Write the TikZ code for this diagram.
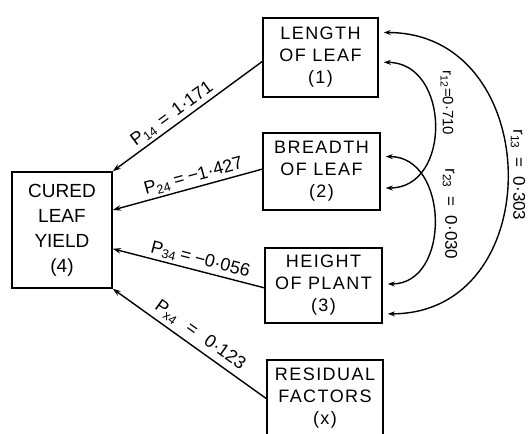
\documentclass[tikz,border=0pt]{standalone}
\usepackage{fontspec}
\setmainfont{Liberation Sans}
\newfontfamily\boxf[LetterSpace=8]{Liberation Sans}
\newfontfamily\labf{Liberation Sans}
\usetikzlibrary{arrows.meta,calc}
\begin{document}
\begin{tikzpicture}[x=1pt,y=-1pt,
  box/.style={draw,line width=1.6pt,align=center,inner sep=0pt,font=\boxf\fontsize{18}{22}\selectfont},
  conn/.style={line width=1.4pt,{Stealth[length=8pt,width=5.5pt]}-},
  corr/.style={line width=1.4pt,{Stealth[length=7pt,width=5pt]}-{Stealth[length=7pt,width=5pt]}},
  lab/.style={font=\labf\fontsize{18}{21}\selectfont,inner sep=2.5pt},
  rlab/.style={font=\labf\fontsize{17}{20}\selectfont,rotate=-90,inner sep=0pt}]
\useasboundingbox (0,0) rectangle (528,434);
\fill[white] (0,0) rectangle (528,434);
\clip (0,0) rectangle (528,434);

\node[box,minimum width=115pt,minimum height=79pt] (len) at (320.5,57.5) {LENGTH\\OF LEAF\\(1)};
\node[box,minimum width=117pt,minimum height=77pt] (bre) at (321.5,171.5) {BREADTH\\OF LEAF\\(2)};
\node[box,minimum width=117pt,minimum height=75pt] (hei) at (323.5,285.5) {HEIGHT\\OF PLANT\\(3)};
\node[box,minimum width=116pt,minimum height=77pt] (res) at (325,398.5) {RESIDUAL\\FACTORS\\(x)};
\node[box,minimum width=100pt,minimum height=116pt,font=\rmfamily\fontsize{19}{25}\selectfont] (cur) at (62,230) {CURED\\LEAF\\YIELD\\(4)};

\draw[conn] (cur.north east) -- node[lab,sloped,above,pos=0.44] (l14) {P\textsubscript{14}\hspace{7pt}=\hspace{7pt}1·171} ($(len.north west)!0.55!(len.south west)$);
\draw[conn] ($(cur.north east)!0.33!(cur.south east)$) -- node[lab,sloped,above,pos=0.56] (l24) {P\textsubscript{24}\hspace{4pt}=\hspace{4pt}−1·427} ($(bre.north west)!0.47!(bre.south west)$);
\draw[conn] ($(cur.north east)!0.66!(cur.south east)$) -- node[lab,sloped,above,pos=0.56] (l34) {P\textsubscript{34}\hspace{4pt}=\hspace{4pt}−0·056} ($(hei.north west)!0.53!(hei.south west)$);
\draw[conn] (cur.south east) -- node[lab,sloped,above=2pt,pos=0.52] (lx4) {P\textsubscript{x4}\hspace{12pt}=\hspace{12pt}0·123} (res.west);

\draw[corr] ($(len.north east)!0.56!(len.south east)+(5,0)$) to[out=0,in=0,looseness=1.35] ($(bre.north east)!0.71!(bre.south east)+(5,0)$);
\draw[corr] ($(bre.north east)!0.31!(bre.south east)+(5,0)$) to[out=0,in=0,looseness=1.27] ($(hei.north east)!0.48!(hei.south east)+(5,0)$);
\draw[corr] ($(len.north east)!0.19!(len.south east)+(5,0)$) to[out=0,in=0,looseness=1.47] ($(hei.north east)!0.87!(hei.south east)+(5,0)$);

\node[rlab,font=\labf\fontsize{15}{18}\selectfont] (r12) at (447,103) {r\textsubscript{12}=0·710};
\node[rlab] (r23) at (450,214) {r\textsubscript{23}\hspace{9pt}=\hspace{9pt}0·030};
\node[rlab] (r13) at (518,175) {r\textsubscript{13}\hspace{9pt}=\hspace{9pt}0·303};
\end{tikzpicture}
\end{document}
